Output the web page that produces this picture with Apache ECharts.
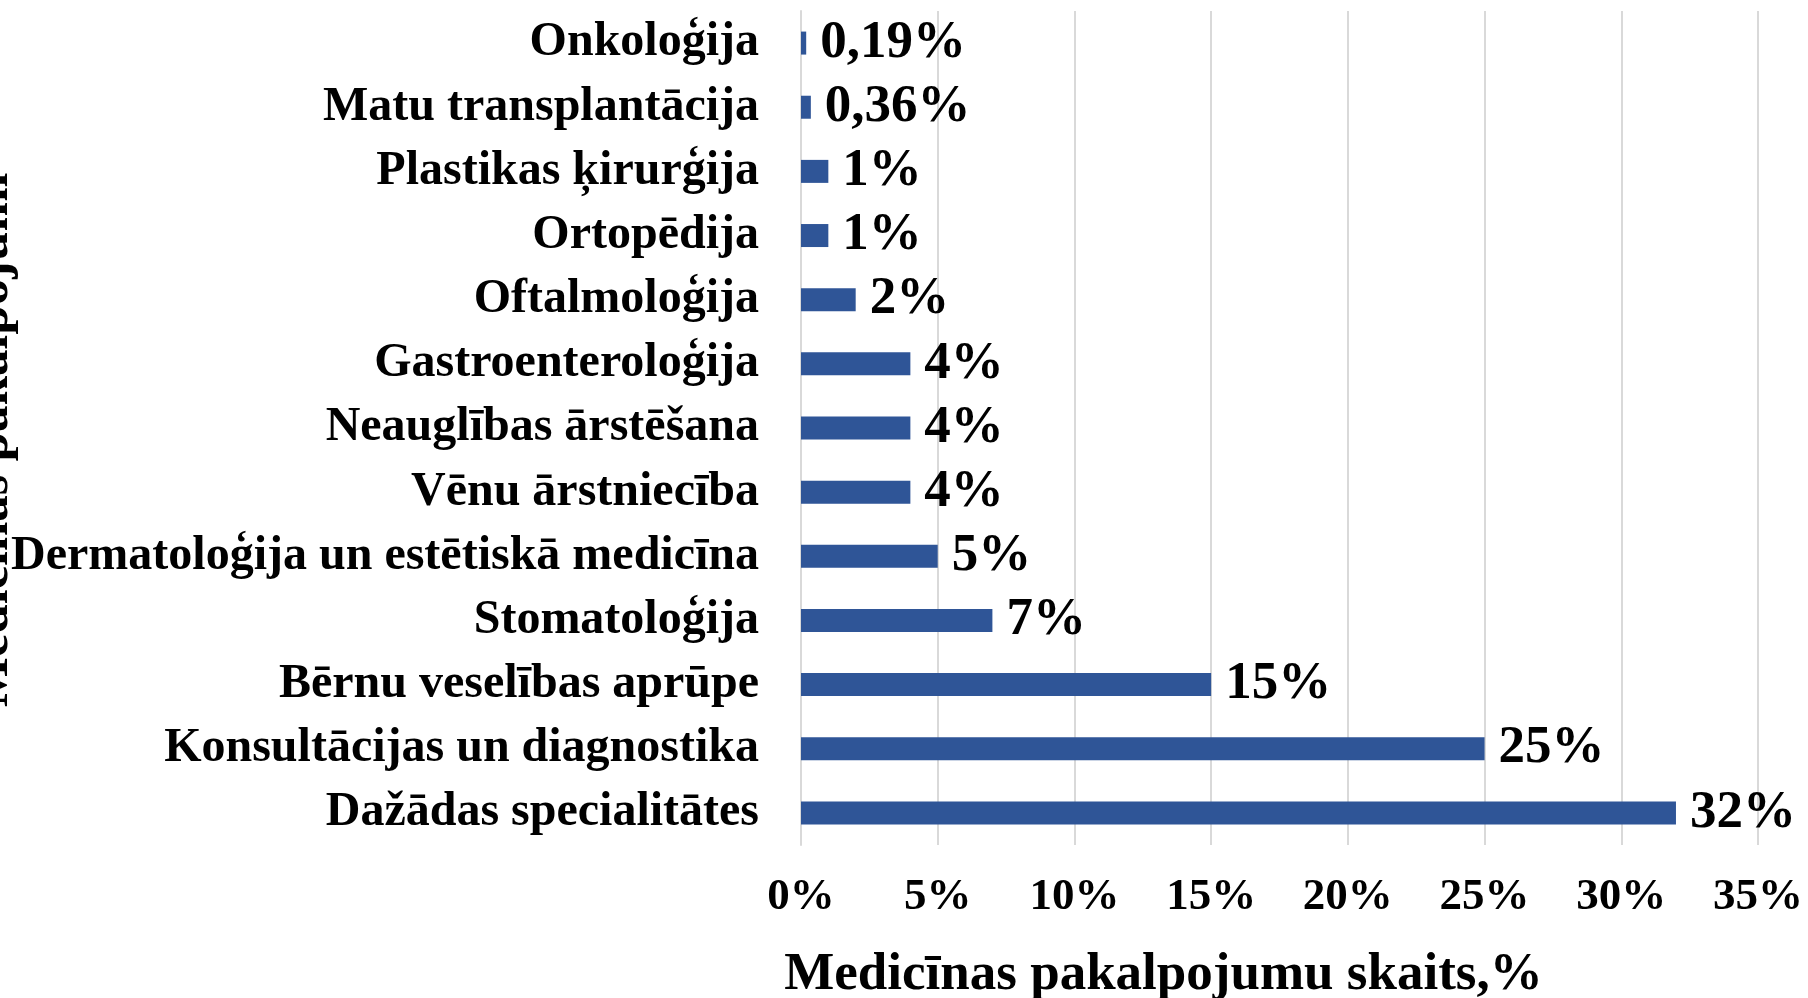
<!DOCTYPE html>
<html>
<head>
<meta charset="utf-8">
<script src="https://cdn.jsdelivr.net/npm/echarts@6/dist/echarts.min.js"></script>
<style>
  html, body { margin: 0; padding: 0; background: #fff; }
  #main { width: 1808px; height: 998px; }
</style>
</head>
<body>
<div id="main"></div>
<script>
// top to bottom, as shown
var categories = [
    'Onkoloģija',
    'Matu transplantācija',
    'Plastikas ķirurģija',
    'Ortopēdija',
    'Oftalmoloģija',
    'Gastroenteroloģija',
    'Neauglības ārstēšana',
    'Vēnu ārstniecība',
    'Dermatoloģija un estētiskā medicīna',
    'Stomatoloģija',
    'Bērnu veselības aprūpe',
    'Konsultācijas un diagnostika',
    'Dažādas specialitātes'
];
var shares = [0.19, 0.36, 1, 1, 2, 4, 4, 4, 5, 7, 15, 25, 32];
var xTicks = [0, 5, 10, 15, 20, 25, 30, 35];

var serif = '"Liberation Serif", "Times New Roman", serif';

var myChart = echarts.init(document.getElementById('main'));

var option = {
    backgroundColor: '#fff',
    animation: false,
    grid: {
        left: 801,
        right: 50,
        top: 11,
        bottom: 153,
        outerBoundsMode: 'none',
        containLabel: false
    },
    xAxis: {
        type: 'value',
        min: xTicks[0],
        max: xTicks[xTicks.length - 1],
        interval: 5,
        name: 'Medicīnas pakalpojumu skaits,%',
        nameLocation: 'middle',
        nameGap: 104,
        nameTextStyle: {
            fontFamily: serif,
            fontWeight: 'bold',
            fontSize: 53,
            color: '#000',
            padding: [0, 232, 0, 0]
        },
        axisLine: { show: false },
        axisTick: { show: false },
        splitLine: {
            show: true,
            lineStyle: { color: '#d9d9d9', width: 2 }
        },
        axisLabel: {
            margin: 30,
            fontFamily: serif,
            fontWeight: 'bold',
            fontSize: 45,
            color: '#000',
            formatter: function (v) { return v + '%'; }
        }
    },
    yAxis: {
        type: 'category',
        data: categories,
        inverse: true,
        // cut off by the left edge in the original
        name: 'Medicīnas pakalpojumi',
        nameLocation: 'middle',
        nameRotate: 90,
        nameGap: 781,
        nameMoveOverlap: false,
        nameTextStyle: {
            fontFamily: serif,
            fontWeight: 'bold',
            fontSize: 53,
            color: '#000',
            padding: [0, 24, 0, 0]
        },
        axisLine: {
            show: true,
            lineStyle: { color: '#d9d9d9', width: 2 }
        },
        axisTick: { show: false },
        axisLabel: {
            margin: 42,
            fontFamily: serif,
            fontWeight: 'bold',
            fontSize: 48,
            color: '#000'
        }
    },
    series: [
        {
            type: 'bar',
            data: shares,
            barWidth: 23,
            itemStyle: { color: '#2F5597' },
            label: {
                show: true,
                position: 'right',
                distance: 14,
                fontFamily: serif,
                fontWeight: 'bold',
                fontSize: 53,
                color: '#000',
                formatter: function (p) {
                    return String(p.value).replace('.', ',') + '%';
                }
            }
        }
    ]
};

myChart.setOption(option);
</script>
</body>
</html>
